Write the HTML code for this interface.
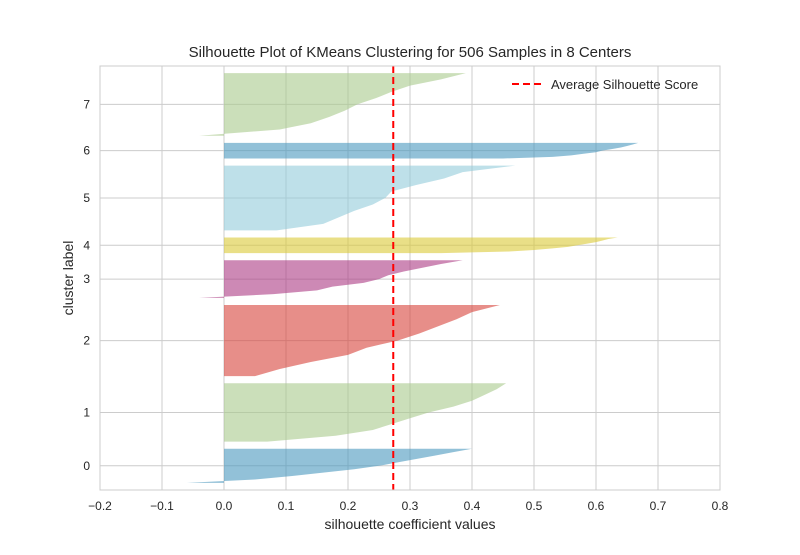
<!DOCTYPE html>
<html><head><meta charset="utf-8"><style>
body{margin:0;background:#fff;font-family:"Liberation Sans","DejaVu Sans",sans-serif}
svg text{font-family:"Liberation Sans","DejaVu Sans",sans-serif;fill:#262626}
</style></head><body>
<svg id="chart" width="800" height="550" xmlns="http://www.w3.org/2000/svg">
<rect width="800" height="550" fill="#fff"/>
<g id="grid"></g>
<g id="marks"></g>
<g id="ticks"></g>
<rect x="100" y="66" width="620" height="424" fill="none" stroke="#cccccc" stroke-width="1"/>
<text x="410" y="57" text-anchor="middle" font-size="15">Silhouette Plot of KMeans Clustering for 506 Samples in 8 Centers</text>
<text x="410" y="529" text-anchor="middle" font-size="14">silhouette coefficient values</text>
<text x="0" y="0" transform="translate(73,278) rotate(-90)" text-anchor="middle" font-size="14">cluster label</text>
<g>
<line x1="512" y1="84" x2="541" y2="84" stroke="#ff0000" stroke-width="2" stroke-dasharray="7,4"/>
<text x="551" y="89" font-size="13">Average Silhouette Score</text>
</g>
</svg>
<script>
const clusterLabels=["0","1","2","3","4","5","6","7"];
const clusterSizes=[48,82,100,53,22,91,22,88];
const c0=[-0.06,0.05,0.11,0.16,0.21,0.25,0.28,0.31,0.34,0.37,0.40];
const c1=[0.07,0.18,0.24,0.27,0.30,0.33,0.37,0.40,0.42,0.44,0.455];
const c2=[0.05,0.09,0.14,0.20,0.23,0.28,0.315,0.345,0.375,0.40,0.445];
const c3=[-0.04,0.08,0.15,0.175,0.225,0.25,0.265,0.29,0.32,0.35,0.385];
const c4=[0.35,0.46,0.50,0.53,0.555,0.57,0.585,0.60,0.61,0.62,0.635];
const c5=[0.085,0.16,0.185,0.21,0.24,0.26,0.27,0.31,0.355,0.385,0.47];
const c6=[0.45,0.53,0.56,0.58,0.60,0.61,0.625,0.64,0.65,0.66,0.668];
const c7=[-0.04,0.09,0.14,0.17,0.195,0.215,0.245,0.27,0.30,0.35,0.39];
const clusterValues=[c0,c1,c2,c3,c4,c5,c6,c7];
const avgScore=0.273;
const xTicks=[-0.2,-0.1,0,0.1,0.2,0.3,0.4,0.5,0.6,0.7,0.8];
const colors=["#4a98be","#a8c98c","#d7433a","#ac3b84","#dbc937","#93cbdb","#4a98be","#a8c98c"];
const NS="http://www.w3.org/2000/svg";
const X0=100,X1=720,Y0=490,Y1=66;
const xMin=-0.2,xMax=0.8;
let total=10;clusterSizes.forEach(s=>total+=s+10);
const xs=v=>X0+(v-xMin)/(xMax-xMin)*(X1-X0);
const ys=u=>Y0-u/total*(Y0-Y1);
function mk(tag,attrs,parent){const e=document.createElementNS(NS,tag);for(const k in attrs)e.setAttribute(k,attrs[k]);parent.appendChild(e);return e;}
const grid=document.getElementById('grid'),marks=document.getElementById('marks'),ticks=document.getElementById('ticks');
xTicks.forEach(t=>{
  const l=mk('line',{x1:xs(t),x2:xs(t),y1:Y1,y2:Y0,stroke:'#cccccc','stroke-width':1},grid);
  
  
  const tx=mk('text',{x:xs(t),y:510,'text-anchor':'middle','font-size':12},ticks);
  tx.textContent=(t===0?"0.0":t.toFixed(1).replace('-','\u2212'));
  
  
});
let lower=10;
clusterSizes.forEach((size,i)=>{
  const vals=clusterValues[i];const n=vals.length;
  let pts=[];
  pts.push(xs(0)+','+ys(lower));
  for(let j=0;j<n;j++){const u=lower+size*j/(n-1);pts.push(xs(vals[j])+','+ys(u));}
  pts.push(xs(0)+','+ys(lower+size));
  const p=mk('polygon',{points:pts.join(' '),fill:colors[i],'fill-opacity':0.6},marks);
  
  
  const mid=ys(lower+size/2);
  const gl=mk('line',{x1:X0,x2:X1,y1:mid,y2:mid,stroke:'#cccccc','stroke-width':1},grid);
  
  
  const tx=mk('text',{x:90,y:mid+4,'text-anchor':'end','font-size':12},ticks);
  tx.textContent=clusterLabels[i];
  
  
  lower+=size+10;
});
const av=mk('line',{x1:xs(avgScore),x2:xs(avgScore),y1:Y1,y2:Y0,stroke:'#ff0000','stroke-width':2,'stroke-dasharray':'7,4'},marks);


</script>
</body></html>
